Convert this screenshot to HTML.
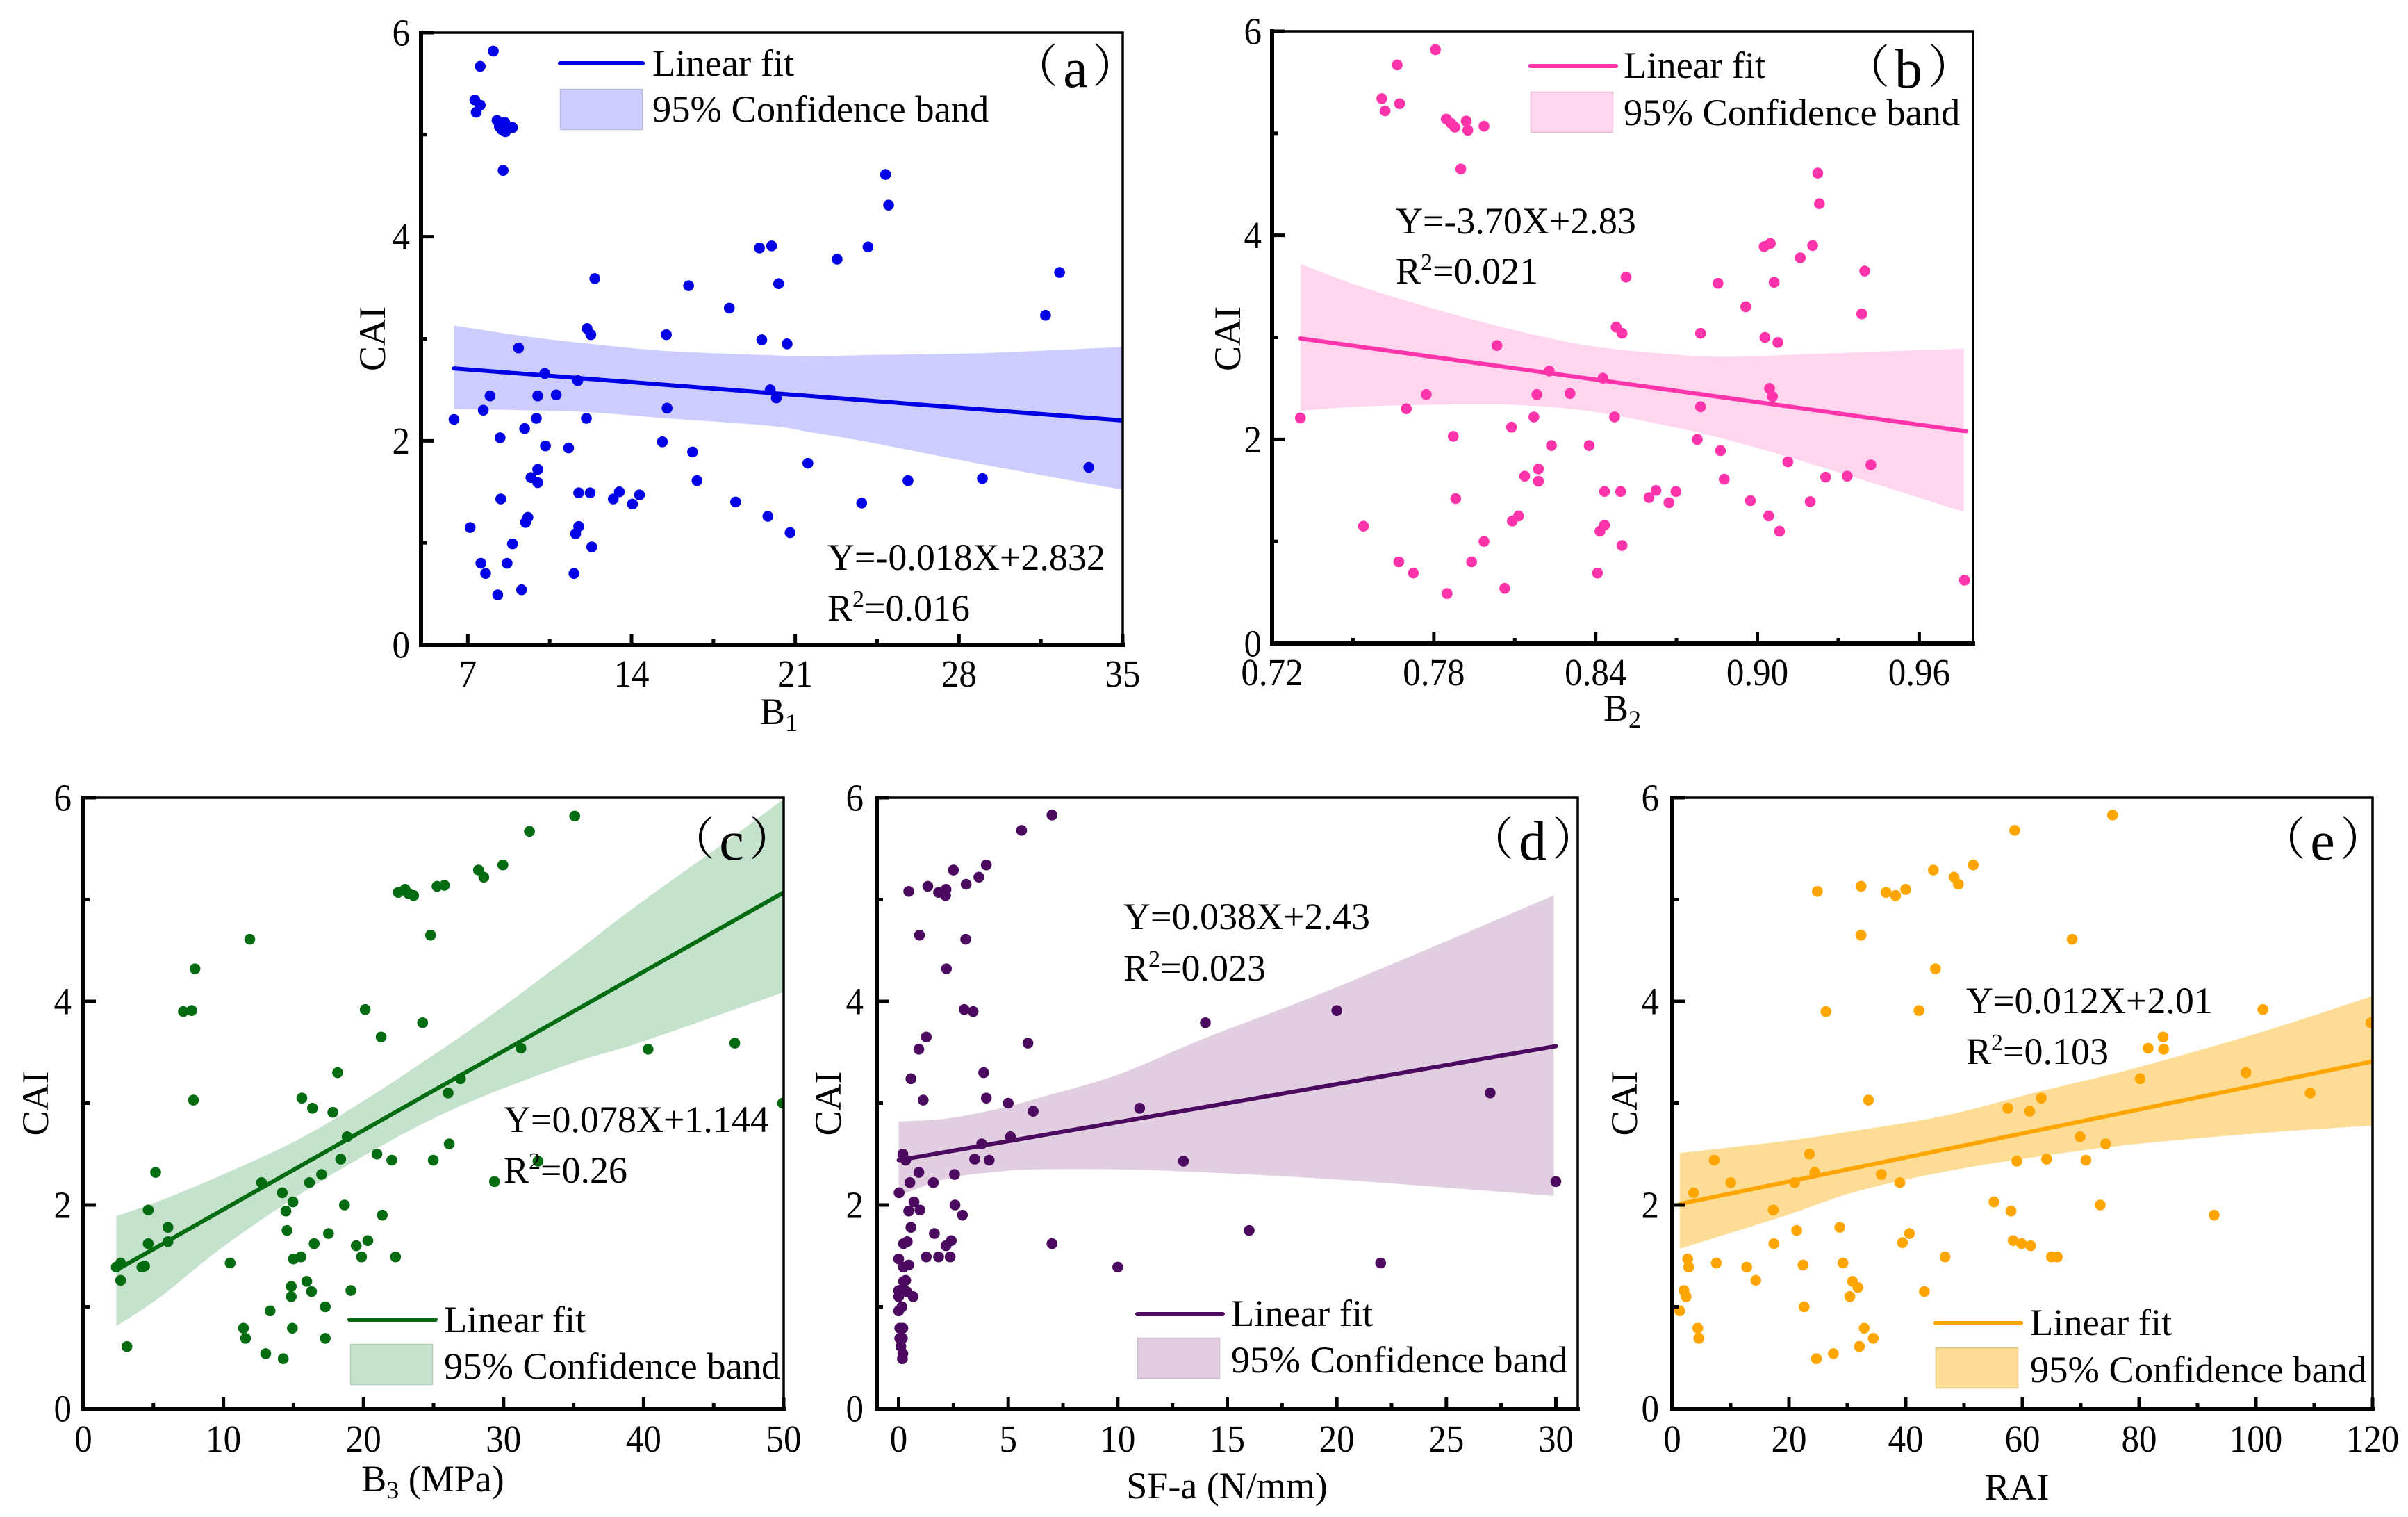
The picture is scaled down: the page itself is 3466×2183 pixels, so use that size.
<!DOCTYPE html>
<html lang="en">
<head>
<meta charset="utf-8">
<title>CAI correlation scatter plots</title>
<style>
html,body{margin:0;padding:0;background:#fff;}
svg{display:block;}
text{font-family:"Liberation Serif","Noto Serif CJK SC",serif;fill:#000;}
.tick{font-size:51px;}
.leg{font-size:54.5px;}
.eq{font-size:54px;}
.ttl{font-size:54px;}
.pl{font-size:80px;text-anchor:middle;}
.pp{font-size:66px;font-family:"Noto Serif CJK SC",serif;}
</style>
</head>
<body>
<svg id="figure" xmlns="http://www.w3.org/2000/svg" width="3466" height="2183" viewBox="0 0 3466 2183">
<rect x="0" y="0" width="3466" height="2183" fill="#fff"/>
<defs>
<clipPath id="clip-a"><rect x="606" y="47" width="1010" height="881"/></clipPath>
<clipPath id="clip-b"><rect x="1831" y="45" width="1009" height="881"/></clipPath>
<clipPath id="clip-c"><rect x="120" y="1148" width="1008" height="879"/></clipPath>
<clipPath id="clip-d"><rect x="1262" y="1148" width="1009" height="879"/></clipPath>
<clipPath id="clip-e"><rect x="2407" y="1148" width="1008" height="879"/></clipPath>
</defs>
<g id="panel-a"></g>
<g id="panel-b"></g>
<g id="panel-c"></g>
<g id="panel-d"></g>
<g id="panel-e"></g>

<!-- Panel a text + legend -->
<g>
<text class="ttl" transform="translate(554,487.5) rotate(-90)" text-anchor="middle">CAI</text>
<text class="ttl" x="1121" y="1042" text-anchor="middle">B<tspan font-size="36" dy="10">1</tspan></text>
<line x1="806" y1="91" x2="925" y2="91" stroke="#0000e6" stroke-width="6" stroke-linecap="round"/>
<text class="leg" x="939" y="109">Linear fit</text>
<rect x="806.5" y="128.5" width="118" height="58" fill="#ccccff" stroke="#b8b8dc" stroke-width="1.5"/>
<text class="leg" x="939" y="175">95% Confidence band</text>
<text class="eq" x="1191" y="820">Y=-0.018X+2.832</text>
<text class="eq" x="1191" y="893">R<tspan font-size="34" dy="-20">2</tspan><tspan dy="20">=0.016</tspan></text>
<g><text class="pp" x="1457" y="118">（</text><text class="pl" x="1548" y="125">a</text><text class="pp" x="1572" y="118">）</text></g>
</g>

<!-- Panel b -->
<g>
<text class="ttl" transform="translate(1785,487.5) rotate(-90)" text-anchor="middle">CAI</text>
<text class="ttl" x="2335" y="1037" text-anchor="middle">B<tspan font-size="36" dy="10">2</tspan></text>
<line x1="2203" y1="95" x2="2326" y2="95" stroke="#ff33aa" stroke-width="6" stroke-linecap="round"/>
<text class="leg" x="2337" y="112">Linear fit</text>
<rect x="2203.5" y="132.5" width="118" height="58" fill="#ffd6ee" stroke="#e8b8d4" stroke-width="1.5"/>
<text class="leg" x="2337" y="180">95% Confidence band</text>
<text class="eq" x="2009" y="336">Y=-3.70X+2.83</text>
<text class="eq" x="2009" y="408">R<tspan font-size="34" dy="-20">2</tspan><tspan dy="20">=0.021</tspan></text>
<g><text class="pp" x="2654" y="119">（</text><text class="pl" x="2747" y="126">b</text><text class="pp" x="2775" y="119">）</text></g>
</g>

<!-- Panel c -->
<g>
<text class="ttl" transform="translate(69,1588) rotate(-90)" text-anchor="middle">CAI</text>
<text class="ttl" x="623" y="2146" text-anchor="middle">B<tspan font-size="36" dy="10">3</tspan><tspan dy="-10"> (MPa)</tspan></text>
<line x1="503" y1="1899" x2="627" y2="1899" stroke="#036b10" stroke-width="6" stroke-linecap="round"/>
<text class="leg" x="639" y="1917">Linear fit</text>
<rect x="504.5" y="1934.5" width="118" height="58" fill="#c5e2cd" stroke="#b4d0bc" stroke-width="1.5"/>
<text class="leg" x="639" y="1984">95% Confidence band</text>
<text class="eq" x="725" y="1629">Y=0.078X+1.144</text>
<text class="eq" x="725" y="1702">R<tspan font-size="34" dy="-20">2</tspan><tspan dy="20">=0.26</tspan></text>
<g><text class="pp" x="963" y="1230">（</text><text class="pl" x="1053" y="1237">c</text><text class="pp" x="1078" y="1230">）</text></g>
</g>

<!-- Panel d -->
<g>
<text class="ttl" transform="translate(1210,1588) rotate(-90)" text-anchor="middle">CAI</text>
<text class="ttl" x="1766" y="2156" text-anchor="middle">SF-a (N/mm)</text>
<line x1="1637" y1="1891" x2="1760" y2="1891" stroke="#4b0a5f" stroke-width="6" stroke-linecap="round"/>
<text class="leg" x="1772" y="1908">Linear fit</text>
<rect x="1637.5" y="1925.5" width="118" height="58" fill="#e1cee0" stroke="#cdbacc" stroke-width="1.5"/>
<text class="leg" x="1772" y="1975">95% Confidence band</text>
<text class="eq" x="1617" y="1337">Y=0.038X+2.43</text>
<text class="eq" x="1617" y="1411">R<tspan font-size="34" dy="-20">2</tspan><tspan dy="20">=0.023</tspan></text>
<g><text class="pp" x="2113" y="1230">（</text><text class="pl" x="2206" y="1237">d</text><text class="pp" x="2234" y="1230">）</text></g>
</g>

<!-- Panel e -->
<g>
<text class="ttl" transform="translate(2356,1588) rotate(-90)" text-anchor="middle">CAI</text>
<text class="ttl" x="2903" y="2158" text-anchor="middle">RAI</text>
<line x1="2786" y1="1904" x2="2909" y2="1904" stroke="#ffa500" stroke-width="6" stroke-linecap="round"/>
<text class="leg" x="2922" y="1921">Linear fit</text>
<rect x="2786.5" y="1939.5" width="118" height="58" fill="#fddd95" stroke="#dcc080" stroke-width="1.5"/>
<text class="leg" x="2922" y="1989">95% Confidence band</text>
<text class="eq" x="2830" y="1458">Y=0.012X+2.01</text>
<text class="eq" x="2830" y="1531">R<tspan font-size="34" dy="-20">2</tspan><tspan dy="20">=0.103</tspan></text>
<g><text class="pp" x="3253" y="1230">（</text><text class="pl" x="3343" y="1237">e</text><text class="pp" x="3368" y="1230">）</text></g>
</g>
</svg>

<script>
// ---- Shared y ticks ----
const yTickValues = [0, 2, 4, 6];
const yTickLabels = ['0', '2', '4', '6'];

// ---- Panel a: B1 ----
const xTicksA = [7, 14, 21, 28, 35];
const xLabelsA = ['7', '14', '21', '28', '35'];
const xA = [8.09,7.53,7.30,7.53,7.36,8.25,8.58,8.35,8.61,8.45,8.91,8.51,24.86,24.99,19.47,19.99,24.11,22.79,32.30,12.43,16.44,20.29,18.18,31.70,12.10,12.26,15.49,19.57,20.65,9.17,10.29,11.70,19.93,20.19,7.95,9.99,10.78,15.52,7.66,6.41,9.93,12.07,9.43,8.38,15.32,10.32,11.31,16.61,21.54,33.55,9.99,9.70,9.99,16.80,25.82,29.00,11.74,12.23,13.48,14.34,13.22,8.41,14.04,18.45,23.84,19.83,9.57,9.47,11.74,11.61,7.10,20.78,8.91,12.30,7.56,8.68,7.76,11.54,9.30,8.28];
const yA = [5.82,5.67,5.34,5.29,5.22,5.14,5.12,5.08,5.03,5.05,5.07,4.65,4.61,4.31,3.89,3.91,3.90,3.78,3.65,3.59,3.52,3.54,3.30,3.23,3.10,3.04,3.04,2.99,2.95,2.91,2.66,2.59,2.50,2.42,2.44,2.44,2.45,2.32,2.30,2.21,2.22,2.22,2.12,2.03,1.99,1.95,1.93,1.89,1.78,1.74,1.72,1.64,1.59,1.61,1.61,1.63,1.49,1.49,1.50,1.47,1.43,1.43,1.38,1.40,1.39,1.26,1.25,1.20,1.16,1.09,1.15,1.10,0.99,0.96,0.80,0.80,0.70,0.70,0.54,0.49];
const fitXA = [6.41, 35];
const fitYA = [2.71, 2.20];
const bandXA = [6.41, 9.27, 12.23, 15.52, 19.80, 21.77, 24.07, 29.00, 35];
const bandUpperA = [3.13, 3.03, 2.95, 2.88, 2.84, 2.83, 2.84, 2.86, 2.92];
const bandLowerA = [2.31, 2.30, 2.28, 2.22, 2.15, 2.08, 1.99, 1.77, 1.52];

// ---- Panel b: B2 ----
const xTicksB = [0.72, 0.78, 0.84, 0.90, 0.96];
const xLabelsB = ['0.72', '0.78', '0.84', '0.90', '0.96'];
const xB = [.7806,.7664,.7607,.7673,.7619,.7846,.792,.7863,.7878,.7926,.7986,.79,.9224,.923,.9025,.9048,.9205,.9159,.9398,.8513,.8854,.9062,.8957,.9387,.8476,.8498,.8789,.9028,.9076,.8034,.8228,.8427,.9045,.9056,.7772,.8182,.8305,.8789,.7698,.7305,.8171,.847,.8088,.7872,.8777,.8236,.8376,.8863,.9113,.9421,.8188,.8137,.8188,.8877,.9253,.9333,.8433,.8493,.8624,.8698,.8598,.7881,.8672,.8974,.9196,.9042,.8114,.8091,.8433,.8416,.7539,.9082,.7986,.8498,.767,.794,.7724,.8407,.8063,.7849,.9768];
const yB = [5.82,5.67,5.34,5.29,5.22,5.14,5.12,5.10,5.06,5.03,5.07,4.65,4.61,4.31,3.89,3.92,3.90,3.78,3.65,3.59,3.53,3.54,3.30,3.23,3.10,3.04,3.04,3.00,2.95,2.92,2.67,2.60,2.50,2.42,2.44,2.44,2.45,2.32,2.30,2.21,2.22,2.22,2.12,2.03,2.00,1.94,1.94,1.89,1.78,1.75,1.71,1.64,1.59,1.61,1.63,1.64,1.49,1.49,1.50,1.49,1.43,1.42,1.38,1.40,1.39,1.25,1.25,1.20,1.16,1.10,1.15,1.10,1.00,0.96,0.80,0.80,0.69,0.69,0.54,0.49,0.62];
const fitXB = [0.7305, 0.9774];
const fitYB = [2.99, 2.08];
const bandXB = [0.7305, 0.7516, 0.78, 0.8085, 0.837, 0.8655, 0.8883, 0.9224, 0.9765];
const bandUpperB = [3.72, 3.51, 3.28, 3.08, 2.92, 2.84, 2.81, 2.84, 2.89];
const bandLowerB = [2.28, 2.32, 2.34, 2.34, 2.28, 2.14, 2.00, 1.74, 1.29];

// ---- Panel c: B3 ----
const xTicksC = [0, 10, 20, 30, 40, 50];
const xLabelsC = ['0', '10', '20', '30', '40', '50'];
const xC = [35.08,31.85,29.95,28.21,28.59,25.78,25.25,22.97,23.2,22.48,23.58,24.79,11.88,7.97,20.12,7.14,7.74,24.22,21.26,46.51,31.24,40.32,18.15,26.92,26.04,7.86,15.6,16.36,17.81,49.92,18.83,26.12,20.96,24.98,32.46,18.37,22.02,5.16,17.01,12.72,16.14,29.35,14.2,14.96,18.64,4.63,14.46,21.34,6.04,14.54,17.5,6.04,20.31,4.63,16.48,19.48,15.53,15.0,19.86,22.29,10.48,2.66,2.35,4.37,4.18,2.66,15.95,14.84,16.29,19.1,14.84,17.27,13.33,11.43,14.92,11.58,17.27,3.11,13.02,14.27];
const yC = [5.82,5.67,5.34,5.29,5.22,5.14,5.13,5.10,5.06,5.07,5.04,4.65,4.61,4.32,3.92,3.90,3.91,3.79,3.65,3.59,3.54,3.53,3.30,3.24,3.10,3.03,3.05,2.95,2.91,3.00,2.67,2.60,2.50,2.44,2.43,2.45,2.44,2.32,2.30,2.22,2.22,2.23,2.12,2.03,2.00,1.95,1.94,1.90,1.78,1.75,1.72,1.64,1.65,1.62,1.62,1.60,1.49,1.47,1.49,1.49,1.43,1.43,1.39,1.40,1.39,1.26,1.25,1.20,1.15,1.16,1.10,1.00,0.96,0.79,0.79,0.69,0.69,0.61,0.54,0.49];
const fitXC = [2.35, 50];
const fitYC = [1.36, 5.07];
const bandXC = [2.35, 5.43, 9.98, 15.3, 19.86, 24.41, 28.97, 35.04, 39.6, 46.5, 50];
const bandUpperC = [1.89, 2.04, 2.30, 2.64, 3.01, 3.42, 3.85, 4.47, 4.95, 5.63, 5.99];
const bandLowerC = [0.81, 1.09, 1.59, 2.09, 2.47, 2.81, 3.09, 3.40, 3.59, 3.92, 4.09];

// ---- Panel d: SF-a ----
const xTicksD = [0, 5, 10, 15, 20, 25, 30];
const xLabelsD = ['0', '5', '10', '15', '20', '25', '30'];
const xD = [7,5.61,4.0,2.5,3.66,3.08,1.33,2.16,0.46,1.82,2.14,0.95,3.06,2.18,2.99,3.4,20,14,1.26,5.9,0.92,0.56,3.88,27,4.0,1.12,5,6.14,11,5.1,3.79,0.19,0.32,3.47,4.13,13,0.92,2.55,0.51,1.58,30,0.02,0.7,2.57,0.46,0.97,2.91,0.56,16,1.63,0.39,2.4,0.22,2.16,7,1.26,1.82,2.35,0,0.46,0.22,10,22,0.32,0.22,0,0.36,0.05,0.66,0,0.15,0,0.05,0.19,0.05,0.17,0.1,0.19,0.17];
const yD = [5.83,5.68,5.34,5.29,5.22,5.15,5.13,5.10,5.08,5.07,5.04,4.65,4.61,4.32,3.92,3.90,3.91,3.79,3.65,3.59,3.53,3.24,3.30,3.10,3.05,3.03,3.00,2.92,2.95,2.67,2.60,2.50,2.44,2.45,2.44,2.43,2.32,2.30,2.22,2.22,2.23,2.12,2.03,2.00,1.94,1.95,1.90,1.78,1.75,1.72,1.64,1.65,1.62,1.60,1.62,1.49,1.49,1.49,1.47,1.41,1.39,1.39,1.43,1.26,1.25,1.16,1.15,1.16,1.10,1.10,1.00,0.96,0.79,0.79,0.69,0.69,0.61,0.54,0.49];
const fitXD = [0, 30];
const fitYD = [2.44, 3.56];
const bandXD = [0, 2.23, 4.66, 6.36, 10, 14, 20, 29.9];
const bandUpperD = [2.82, 2.85, 2.95, 3.05, 3.28, 3.64, 4.14, 5.04];
const bandLowerD = [2.09, 2.26, 2.33, 2.35, 2.35, 2.32, 2.25, 2.09];

// ---- Panel e: RAI ----
const xTicksE = [0, 20, 40, 60, 80, 100, 120];
const xLabelsE = ['0', '20', '40', '60', '80', '100', '120'];
const xE = [75.44,58.68,51.57,44.74,48.29,49.02,32.35,40.0,24.87,36.63,38.27,32.35,68.52,45.1,101.2,26.33,42.28,119.7,84.1,84.2,81.55,98.3,80.18,109.3,63.23,33.62,57.49,61.23,69.89,74.26,23.5,7.2,64.15,70.89,59.04,24.42,35.81,10.02,20.96,39.0,3.64,55.13,73.35,17.31,58.04,92.85,28.7,21.32,40.64,58.41,17.4,39.45,59.86,61.41,2.64,46.74,64.97,65.97,7.56,29.25,22.41,2.82,12.76,14.31,30.89,31.8,2.0,2.37,43.19,30.43,22.6,1.28,32.89,4.37,4.56,34.44,32.07,27.61,24.69];
const yE = [5.83,5.68,5.34,5.29,5.22,5.15,5.13,5.10,5.08,5.07,5.04,4.65,4.61,4.32,3.92,3.90,3.91,3.79,3.65,3.53,3.54,3.30,3.24,3.10,3.05,3.03,2.95,2.92,2.67,2.60,2.50,2.44,2.45,2.44,2.43,2.32,2.30,2.22,2.22,2.22,2.12,2.03,2.00,1.95,1.94,1.90,1.78,1.75,1.72,1.65,1.62,1.63,1.62,1.60,1.47,1.49,1.49,1.49,1.43,1.43,1.41,1.39,1.39,1.26,1.25,1.19,1.16,1.10,1.15,1.10,1.00,0.96,0.79,0.79,0.69,0.69,0.61,0.54,0.49];
const fitXE = [1.28, 120];
const fitYE = [2.01, 3.41];
const bandXE = [1.28, 19.6, 31.4, 46.9, 63.3, 79.7, 101.6, 119.8];
const bandUpperE = [2.51, 2.63, 2.73, 2.88, 3.12, 3.35, 3.71, 4.05];
const bandLowerE = [1.57, 1.90, 2.13, 2.33, 2.48, 2.60, 2.71, 2.78];

const SVG_NS = 'http://www.w3.org/2000/svg';

function makeScale(d0, d1, p0, p1) {
  return function (v) { return p0 + (v - d0) * (p1 - p0) / (d1 - d0); };
}

// Smooth curve segments (Catmull-Rom to Bezier) through a list of [x,y] points.
function smoothSegments(pts) {
  let s = '';
  for (let i = 0; i < pts.length - 1; i++) {
    const p0 = pts[Math.max(i - 1, 0)];
    const p1 = pts[i];
    const p2 = pts[i + 1];
    const p3 = pts[Math.min(i + 2, pts.length - 1)];
    const c1x = p1[0] + (p2[0] - p0[0]) / 6;
    const c1y = p1[1] + (p2[1] - p0[1]) / 6;
    const c2x = p2[0] - (p3[0] - p1[0]) / 6;
    const c2y = p2[1] - (p3[1] - p1[1]) / 6;
    s += 'C' + c1x.toFixed(1) + ' ' + c1y.toFixed(1) + ' ' + c2x.toFixed(1) + ' ' + c2y.toFixed(1) + ' ' + p2[0].toFixed(1) + ' ' + p2[1].toFixed(1);
  }
  return s;
}

function drawPanel(id, box, xDomain, xTicks, xLabels, xs, ys, fitX, fitY, bandX, bandUp, bandLo, colors, labelBaseline, yLabelRight) {
  const g = document.getElementById('panel-' + id);
  const X = makeScale(xDomain[0], xDomain[1], box.l, box.r);
  const Y = makeScale(0, 6, box.b, box.t);

  // clipped plot content
  const plot = document.createElementNS(SVG_NS, 'g');
  plot.setAttribute('clip-path', 'url(#clip-' + id + ')');
  
  
  g.appendChild(plot);

  // confidence band
  const up = bandX.map(function (v, i) { return [X(v), Y(bandUp[i])]; });
  const lo = bandX.map(function (v, i) { return [X(v), Y(bandLo[i])]; }).reverse();
  const d = 'M' + up[0][0].toFixed(1) + ' ' + up[0][1].toFixed(1) + smoothSegments(up) +
    'L' + lo[0][0].toFixed(1) + ' ' + lo[0][1].toFixed(1) + smoothSegments(lo) + 'Z';
  const band = document.createElementNS(SVG_NS, 'path');
  band.setAttribute('d', d);
  band.setAttribute('fill', colors.band);
  band.setAttribute('stroke', 'none');
  
  
  plot.appendChild(band);

  // fit line
  const fit = document.createElementNS(SVG_NS, 'line');
  fit.setAttribute('x1', X(fitX[0]));
  fit.setAttribute('y1', Y(fitY[0]));
  fit.setAttribute('x2', X(fitX[1]));
  fit.setAttribute('y2', Y(fitY[1]));
  fit.setAttribute('stroke', colors.line);
  fit.setAttribute('stroke-width', '6');
  fit.setAttribute('stroke-linecap', 'round');
  
  
  plot.appendChild(fit);

  // scatter points
  xs.forEach(function (v, i) {
    if (ys[i] === undefined) return;
    const c = document.createElementNS(SVG_NS, 'circle');
    c.setAttribute('cx', X(v));
    c.setAttribute('cy', Y(ys[i]));
    c.setAttribute('r', '7.8');
    c.setAttribute('fill', colors.line);
    
    
    plot.appendChild(c);
  });

  // frame
  const frameTop = document.createElementNS(SVG_NS, 'path');
  frameTop.setAttribute('d', 'M' + box.l + ' ' + box.t + 'H' + box.r + 'V' + box.b);
  frameTop.setAttribute('fill', 'none');
  frameTop.setAttribute('stroke', '#000');
  frameTop.setAttribute('stroke-width', '3.5');
  
  
  g.appendChild(frameTop);

  const axes = document.createElementNS(SVG_NS, 'path');
  axes.setAttribute('d', 'M' + box.l + ' ' + (box.t - 3) + 'V' + box.b + 'H' + (box.r + 3));
  axes.setAttribute('fill', 'none');
  axes.setAttribute('stroke', '#000');
  axes.setAttribute('stroke-width', '6');
  
  
  g.appendChild(axes);

  function tick(x1, y1, x2, y2, name) {
    const t = document.createElementNS(SVG_NS, 'line');
    t.setAttribute('x1', x1);
    t.setAttribute('y1', y1);
    t.setAttribute('x2', x2);
    t.setAttribute('y2', y2);
    t.setAttribute('stroke', '#000');
    t.setAttribute('stroke-width', '5');
    
    
    g.appendChild(t);
  }
  function label(x, y, str, anchor, name) {
    const t = document.createElementNS(SVG_NS, 'text');
    t.setAttribute('transform', 'translate(' + x + ' ' + y + ') scale(1 1.08)');
    t.setAttribute('text-anchor', anchor);
    t.setAttribute('class', 'tick');
    
    
    t.textContent = str;
    g.appendChild(t);
  }

  // y ticks
  yTickValues.forEach(function (v, i) {
    tick(box.l, Y(v), box.l + 18, Y(v), 'y-major-tick');
    label(yLabelRight, Y(v) + 18.5, yTickLabels[i], 'end', 'y-tick-label');
    if (i < yTickValues.length - 1) {
      const m = (v + yTickValues[i + 1]) / 2;
      tick(box.l, Y(m), box.l + 9, Y(m), 'y-minor-tick');
    }
  });

  // x ticks
  xTicks.forEach(function (v, i) {
    tick(X(v), box.b, X(v), box.b - 16, 'x-major-tick');
    label(X(v), labelBaseline, xLabels[i], 'middle', 'x-tick-label');
    if (i < xTicks.length - 1) {
      const m = (v + xTicks[i + 1]) / 2;
      tick(X(m), box.b, X(m), box.b - 8, 'x-minor-tick');
    }
  });
}

drawPanel('a', {l: 606, r: 1616, t: 47, b: 928}, [5, 35], xTicksA, xLabelsA, xA, yA, fitXA, fitYA, bandXA, bandUpperA, bandLowerA, {line: '#0000e6', band: '#ccccff'}, 988, 590);
drawPanel('b', {l: 1831, r: 2840, t: 45, b: 926}, [0.72, 0.98], xTicksB, xLabelsB, xB, yB, fitXB, fitYB, bandXB, bandUpperB, bandLowerB, {line: '#ff33aa', band: '#ffd6ee'}, 986, 1816);
drawPanel('c', {l: 120, r: 1128, t: 1148, b: 2027}, [0, 50], xTicksC, xLabelsC, xC, yC, fitXC, fitYC, bandXC, bandUpperC, bandLowerC, {line: '#036b10', band: '#c5e2cd'}, 2089, 103);
drawPanel('d', {l: 1262, r: 2271, t: 1148, b: 2027}, [-1, 31], xTicksD, xLabelsD, xD, yD, fitXD, fitYD, bandXD, bandUpperD, bandLowerD, {line: '#4b0a5f', band: '#e1cee0'}, 2089, 1243);
drawPanel('e', {l: 2407, r: 3415, t: 1148, b: 2027}, [0, 120], xTicksE, xLabelsE, xE, yE, fitXE, fitYE, bandXE, bandUpperE, bandLowerE, {line: '#ffa500', band: '#fddd95'}, 2089, 2388);
</script>
</body>
</html>
